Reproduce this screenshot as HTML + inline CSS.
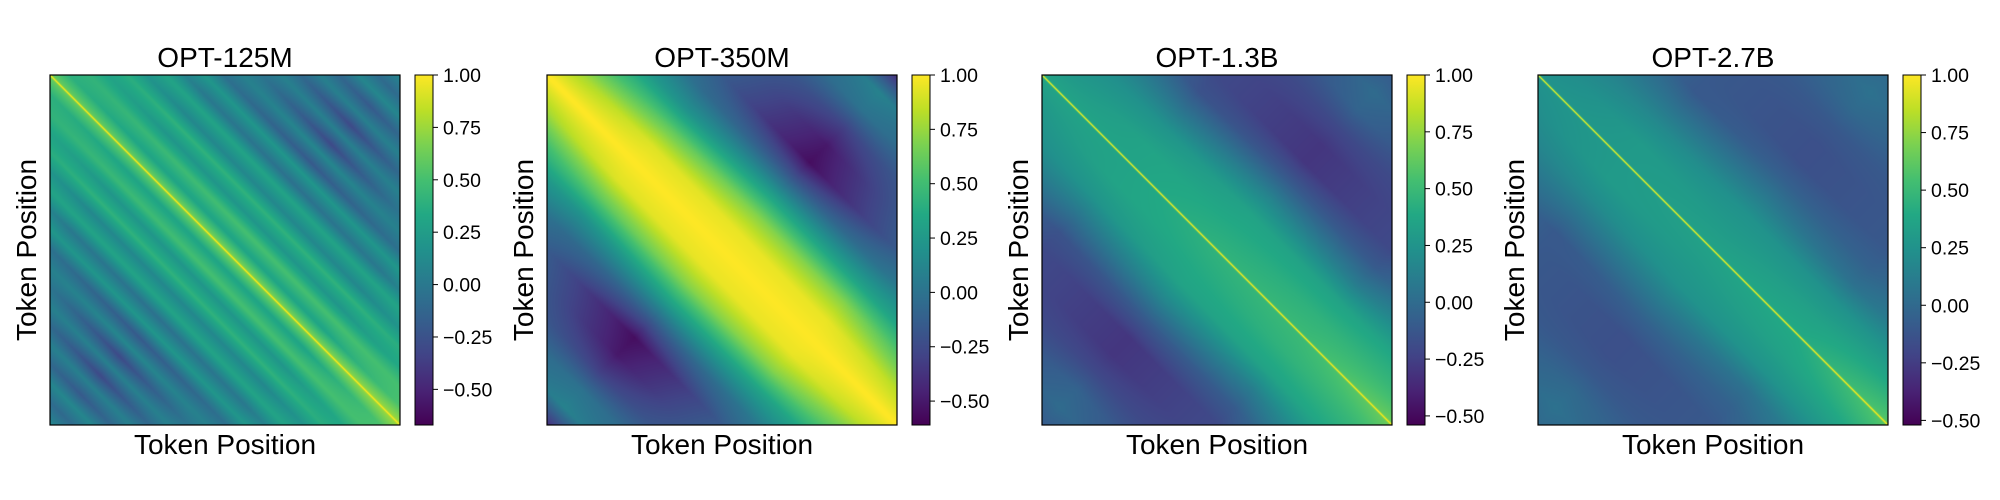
<!DOCTYPE html>
<html><head><meta charset="utf-8">
<style>
html,body{margin:0;padding:0;background:#fff;}
#wrap{position:relative;width:2000px;height:500px;overflow:hidden;font-family:"Liberation Sans","DejaVu Sans",sans-serif;}
canvas{position:absolute;}
svg{position:absolute;left:0;top:0;}
</style></head>
<body>
<div id="wrap">
<svg id="ov" width="2000" height="500"></svg>
</div>
<script>
// ---- data ----
const titles = ["OPT-125M","OPT-350M","OPT-1.3B","OPT-2.7B"];
const vmins = [-0.67,-0.61,-0.54,-0.52];
const vmax = 1.0;
const tickValues = [1.0,0.75,0.5,0.25,0.0,-0.25,-0.5];
const tickLabels = ["1.00","0.75","0.50","0.25","0.00","\u22120.25","\u22120.50"];
const tSamples = [0,0.25,0.5,0.75,1];
const dStd = [0,0.006,0.1,0.2,0.3,0.4,0.5,0.6,0.7,0.8,0.9,1.0];
const dFine = [0,0.006,0.055,0.11,0.165,0.22,0.275,0.33,0.385,0.44,0.495,0.55,0.605,0.66,0.715,0.77,0.825,0.88,0.935,1.0];
const grid125 = [
 [1,0.6,0.4,0.4,0.35,0.35,0.3,0.3,0.3,0.3,0.3,0.3,0.3,0.3,0.3,0.3,0.3,0.3,0.3,0.3],
 [1,0.6,0.3,0.45,0.2,0.4,0.1,0.3,0.0,0.2,-0.05,0.05,0.05,0.05,0.05,0.05,0.05,0.05,0.05,0.05],
 [1,0.65,0.3,0.5,0.2,0.4,0.1,0.3,-0.05,0.2,-0.2,0.1,-0.3,0.05,-0.3,0.05,-0.2,0.1,-0.1,0.1],
 [1,0.65,0.3,0.5,0.2,0.4,0.1,0.3,0.0,0.2,-0.05,0.05,0.05,0.05,0.05,0.05,0.05,0.05,0.05,0.05],
 [1,0.75,0.55,0.5,0.4,0.35,0.3,0.3,0.3,0.3,0.3,0.3,0.3,0.3,0.3,0.3,0.3,0.3,0.3,0.3]
];
const grid350 = [
 [1,1,0.75,0.45,0.3,0.2,0.1,0.1,0.1,0.1,0.1,0.1],
 [1,1,0.92,0.6,0.2,-0.05,-0.15,-0.1,-0.1,-0.1,-0.1,-0.1],
 [1,1,0.95,0.7,0.3,-0.15,-0.55,-0.5,-0.3,0.0,0.1,-0.4],
 [1,1,0.95,0.7,0.3,0.0,-0.15,-0.1,-0.1,-0.1,-0.1,-0.1],
 [1,1,0.8,0.5,0.3,0.2,0.1,0.1,0.1,0.1,0.1,0.1]
];
const grid13 = [
 [1,0.35,0.25,0.2,0.15,0.1,0.1,0.1,0.1,0.1,0.1,0.1],
 [1,0.35,0.35,0.25,0.05,-0.15,-0.2,-0.2,-0.2,-0.2,-0.2,-0.2],
 [1,0.45,0.4,0.35,0.15,-0.1,-0.3,-0.3,-0.2,-0.05,0.0,-0.1],
 [1,0.5,0.45,0.35,0.1,-0.1,-0.2,-0.2,-0.2,-0.2,-0.2,-0.2],
 [1,0.65,0.5,0.4,0.3,0.2,0.2,0.2,0.2,0.2,0.2,0.2]
];
const grid27 = [
 [1,0.25,0.2,0.15,0.1,0.1,0.1,0.1,0.1,0.1,0.1,0.1],
 [1,0.3,0.3,0.2,0.05,-0.1,-0.1,-0.1,-0.1,-0.1,-0.1,-0.1],
 [1,0.35,0.3,0.25,0.1,-0.05,-0.15,-0.15,-0.1,0.0,0.05,0.0],
 [1,0.4,0.35,0.25,0.05,-0.05,-0.1,-0.1,-0.1,-0.1,-0.1,-0.1],
 [1,0.6,0.45,0.3,0.2,0.15,0.15,0.15,0.15,0.15,0.15,0.15]
];
const grids = [grid125,grid350,grid13,grid27];
const dArrays = [dFine,dStd,dStd,dStd];
const viridisStops = ["#440154","#482475","#414487","#355f8d","#2a788e","#21918c","#22a884","#44bf70","#7ad151","#bddf26","#fde725"];

// ---- layout ----
const plotLefts = [50,547,1042,1538];
const plotTop = 75, plotSize = 350, cbOff = 365, cbW = 18;
const NS = "http://www.w3.org/2000/svg";
const ov = document.getElementById('ov');
const wrap = document.getElementById('wrap');

function hex(h){return [parseInt(h.substr(1,2),16),parseInt(h.substr(3,2),16),parseInt(h.substr(5,2),16)];}
const stopsRGB = viridisStops.map(hex);
function viridis(f){
  f=Math.max(0,Math.min(1,f));
  const p=f*(stopsRGB.length-1), i=Math.min(stopsRGB.length-2,Math.floor(p)), r=p-i;
  const a=stopsRGB[i], b=stopsRGB[i+1];
  return [a[0]+(b[0]-a[0])*r, a[1]+(b[1]-a[1])*r, a[2]+(b[2]-a[2])*r];
}
function locate(arr,v){
  if(v<=arr[0]) return [0,0];
  for(let i=0;i<arr.length-1;i++){ if(v<=arr[i+1]) return [i,(v-arr[i])/(arr[i+1]-arr[i])]; }
  return [arr.length-2,1];
}
function sample(grid,dArr,x,y){
  const d=Math.abs(x-y), t=(x+y)/2;
  const [ti,tr]=locate(tSamples,t); const [di,dr]=locate(dArr,d);
  const g=(a,b)=>grid[a][b];
  const v0=g(ti,di)*(1-dr)+g(ti,di+1)*dr;
  const v1=g(ti+1,di)*(1-dr)+g(ti+1,di+1)*dr;
  return v0*(1-tr)+v1*tr;
}
function el(tag,attrs,parent){const e=document.createElementNS(NS,tag);for(const k in attrs)e.setAttribute(k,attrs[k]);(parent||ov).appendChild(e);return e;}

const defs=el('defs',{});
const lg=el('linearGradient',{id:'vir',x1:'0',y1:'1',x2:'0',y2:'0'},defs);
viridisStops.forEach((c,i)=>el('stop',{offset:(i/(viridisStops.length-1)),'stop-color':c},lg));

titles.forEach((title,p)=>{
  const L=plotLefts[p];
  const vmin=vmins[p];
  const cv=document.createElement('canvas');
  cv.width=plotSize; cv.height=plotSize;
  cv.style.left=L+'px'; cv.style.top=plotTop+'px';
  
  
  wrap.insertBefore(cv,ov);
  const ctx=cv.getContext('2d'); const img=ctx.createImageData(plotSize,plotSize);
  for(let r=0;r<plotSize;r++){for(let c=0;c<plotSize;c++){
    const v=sample(grids[p],dArrays[p],(c+0.5)/plotSize,(r+0.5)/plotSize);
    const col=viridis((v-vmin)/(vmax-vmin)); const k=(r*plotSize+c)*4;
    img.data[k]=col[0];img.data[k+1]=col[1];img.data[k+2]=col[2];img.data[k+3]=255;
  }}
  ctx.putImageData(img,0,0);

  const g=el('g',{});
  
  
  const frame=el('rect',{x:L,y:plotTop,width:plotSize,height:plotSize,fill:'none',stroke:'#000','stroke-width':1.2},g);
  
  
  const tt=el('text',{x:L+plotSize/2,y:67,'text-anchor':'middle','font-size':28,fill:'#000'},g);
  tt.textContent=title;
  
  
  const xl=el('text',{x:L+plotSize/2,y:454,'text-anchor':'middle','font-size':28,fill:'#000'},g);
  xl.textContent='Token Position';
  
  
  const yx=L-14, yy=plotTop+plotSize/2;
  const yl=el('text',{x:yx,y:yy,'text-anchor':'middle','font-size':28,fill:'#000',transform:'rotate(-90 '+yx+' '+yy+')'},g);
  yl.textContent='Token Position';
  
  
  const cx=L+cbOff;
  const cb=el('rect',{x:cx,y:plotTop,width:cbW,height:plotSize,fill:'url(#vir)',stroke:'#000','stroke-width':1},g);
  
  
  const cy=v=>plotTop+plotSize*(vmax-v)/(vmax-vmin);
  tickValues.forEach((tv,i)=>{
    const y=cy(tv);
    const tk=el('line',{x1:cx+cbW,x2:cx+cbW+5,y1:y,y2:y,stroke:'#000','stroke-width':1},g);
    
    
    const tl=el('text',{x:cx+cbW+10,y:y+7,'font-size':19.5,fill:'#000'},g);
    tl.textContent=tickLabels[i];
    
    
  });
});
</script>
</body></html>
